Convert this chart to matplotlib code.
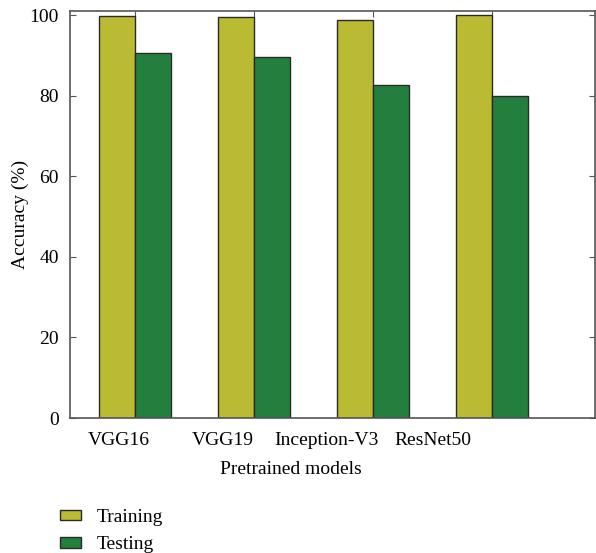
import matplotlib.pyplot as plt
import numpy as np

plt.rcParams['font.family'] = ['Liberation Serif', 'DejaVu Serif']

# data
models = ["VGG16", "VGG19", "Inception-V3", "ResNet50"]
training = [99.8, 99.5, 98.8, 99.9]
testing = [90.5, 89.5, 82.6, 79.9]

# where the category names sit (they are offset from the bar groups in the original)
label_pos = [-0.14, 0.74, 1.61, 2.50]

train_color = "#BABA33"
test_color = "#237F3E"
edge = "#2a2a2a"
spine_c = "#555555"

fig = plt.figure(figsize=(5.96, 5.53), dpi=100)
ax = fig.add_axes([0.1174, 0.2441, 0.8809, 0.7360])

x = np.arange(len(models))
w = 0.3
ax.bar(x - w / 2, training, w, color=train_color, edgecolor=edge, linewidth=1.0, label="Training")
ax.bar(x + w / 2, testing, w, color=test_color, edgecolor=edge, linewidth=1.0, label="Testing")

ax.set_xlim(-0.546, 3.866)
ax.set_ylim(0, 101)
ax.set_yticks([0, 20, 40, 60, 80, 100])
ax.set_xticks(label_pos)
ax.set_xticklabels(models)

for s in ax.spines.values():
    s.set_color(spine_c)
    s.set_linewidth(1.2)

ax.tick_params(axis="y", direction="in", length=4, color=spine_c, right=True, labelsize=14, pad=8)
ax.tick_params(axis="x", length=0, labelsize=14, pad=10)

top = ax.secondary_xaxis("top")
top.set_xticks(x)
top.tick_params(direction="in", length=4, color=spine_c, labeltop=False)
top.spines["top"].set_visible(False)

ax.set_ylabel("Accuracy (%)", fontsize=14)
ax.yaxis.set_label_coords(-0.078, 0.5)
ax.set_xlabel("Pretrained models", fontsize=14)
ax.xaxis.set_label_coords(0.42, -0.105)

fig.legend(loc="upper left", bbox_to_anchor=(0.10, 0.08), frameon=False, fontsize=14,
           handlelength=1.1, handleheight=0.45, handletextpad=0.8, labelspacing=0.55,
           borderpad=0, borderaxespad=0)

fig.savefig("out.png", dpi=100)
